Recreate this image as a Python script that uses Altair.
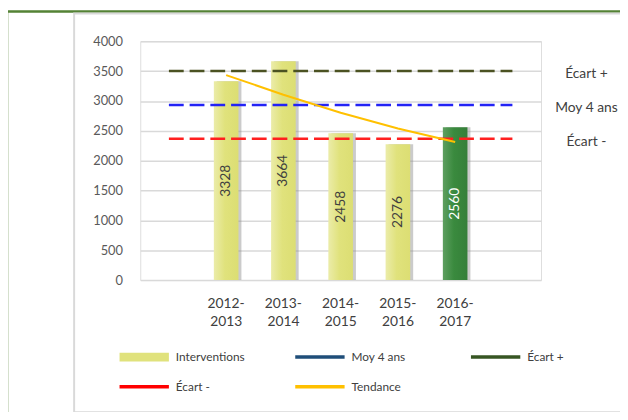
import altair as alt
import pandas as pd

# ---- data ----
categories = ["2012-2013", "2013-2014", "2014-2015", "2015-2016", "2016-2017"]
interventions = [3328, 3664, 2458, 2276, 2560]
axis_slots = ["_debut"] + categories + ["_fin"]
moy_4_ans = [2933, 2933, 2933, 2933, 2933, 2933, 2933]
ecart_plus = [3500, 3500, 3500, 3500, 3500, 3500, 3500]
ecart_moins = [2367, 2367, 2367, 2367, 2367, 2367, 2367]
tendance = [3433, 3104, 2802, 2539, 2312]
y_ticks = [0, 500, 1000, 1500, 2000, 2500, 3000, 3500, 4000]
legend_order = ["Interventions", "Moy 4 ans", "Écart +", "Écart -", "Tendance"]
legend_colors = ["#e0e27c", "#1f4e79", "#375623", "#ff0000", "#ffc000"]
ref_order = ["Écart +", "Moy 4 ans", "Écart -"]
ref_colors = ["#4b5222", "#2323f5", "#ff1f1f"]
trend_color = "#ffc000"
highlight = "2016-2017"

FONT = "Lato"

bars_df = pd.DataFrame({"slot": categories, "valeur": interventions})
ref_df = pd.DataFrame(
    [{"slot": s, "valeur": v, "serie": "Écart +"} for s, v in zip(axis_slots, ecart_plus)]
    + [{"slot": s, "valeur": v, "serie": "Moy 4 ans"} for s, v in zip(axis_slots, moy_4_ans)]
    + [{"slot": s, "valeur": v, "serie": "Écart -"} for s, v in zip(axis_slots, ecart_moins)]
)
trend_df = pd.DataFrame({"slot": categories, "valeur": tendance})
ann_df = pd.DataFrame({
    "slot": ["_fin", "_fin", "_fin"],
    "valeur": [ecart_plus[-1], moy_4_ans[-1], ecart_moins[-1]],
    "label": ["Écart +", "Moy 4 ans", "Écart -"],
})
legend_df = pd.DataFrame({"serie": legend_order, "slot": axis_slots[1:6], "valeur": interventions})
one = pd.DataFrame({"a": [0]})

x_enc = alt.X(
    "slot:N",
    sort=axis_slots,
    scale=alt.Scale(domain=axis_slots, paddingInner=0.57, paddingOuter=0.285),
    axis=alt.Axis(
        title=None, labelAngle=0, ticks=False, domain=False, grid=False,
        labelExpr="indexof(datum.value, '-') > 0 ? [slice(datum.value, 0, 5), slice(datum.value, 5)] : ''",
        labelFont=FONT, labelFontSize=14, labelColor="#404040", labelPadding=17,
        labelLineHeight=18, labelBaseline="top",
    ),
)
y_scale = alt.Scale(domain=[0, 4000], nice=False)
y_axis = alt.Axis(
    title=None, values=y_ticks, format="d", labelOverlap=False, domain=False, ticks=False,
    grid=True, gridColor="#d9d9d9", gridWidth=1.5, labelFont=FONT, labelFontSize=13,
    labelColor="#595959", labelPadding=18,
)
y_enc = alt.Y("valeur:Q", scale=y_scale, axis=y_axis)

rect_path = "M-0.93,-0.11H0.93V0.11H-0.93Z M-0.93,0H0.93"
legend = alt.Legend(
    title=None, orient="none", legendX=-23, legendY=313, columns=3, direction="horizontal",
    columnPadding=49, rowPadding=16, gridAlign="all", padding=0,
    symbolType=alt.ExprRef(f"datum.value === 'Interventions' ? '{rect_path}' : 'stroke'"),
    symbolSize=2500, symbolStrokeWidth=3.5, symbolOpacity=1,
    labelFont=FONT, labelFontSize=12, labelColor="#404040", labelOffset=5,
    clipHeight=14,
)

# legend-only layer (no marks drawn, the scale domain drives the legend)
legend_layer = alt.Chart(legend_df).transform_filter("false").mark_line(strokeCap="round").encode(
    x=x_enc, y=y_enc,
    color=alt.Color("serie:N", scale=alt.Scale(domain=legend_order, range=legend_colors), legend=legend),
)

# frames
green_frame = alt.Chart(one).mark_rect(fillOpacity=0, stroke="#548235", strokeWidth=2.5).encode(
    x=alt.value(-135), x2=alt.value(900), y=alt.value(-30), y2=alt.value(900)
)
gray_panel = alt.Chart(one).mark_rect(fillOpacity=0, stroke="#d9d9d9", strokeWidth=2).encode(
    x=alt.value(-67), x2=alt.value(900), y=alt.value(-28), y2=alt.value(376)
)

yellow_grad = alt.LinearGradient(
    gradient="linear", x1=0, x2=1, y1=0, y2=0,
    stops=[alt.GradientStop(offset=0, color="#ebeca9"),
           alt.GradientStop(offset=0.45, color="#e0e27c"),
           alt.GradientStop(offset=1, color="#dcde73")],
)
green_grad = alt.LinearGradient(
    gradient="linear", x1=0, x2=1, y1=0, y2=0,
    stops=[alt.GradientStop(offset=0, color="#5e9f60"),
           alt.GradientStop(offset=0.45, color="#3a8a3e"),
           alt.GradientStop(offset=1, color="#357f39")],
)

base_bars = alt.Chart(bars_df)
shadow = base_bars.mark_bar(color="#8c8c8c", opacity=0.45, xOffset=3).encode(x=x_enc, y=y_enc)
bars_y = base_bars.transform_filter(alt.datum.slot != highlight).mark_bar(color=yellow_grad).encode(x=x_enc, y=y_enc)
bars_g = base_bars.transform_filter(alt.datum.slot == highlight).mark_bar(color=green_grad).encode(x=x_enc, y=y_enc)

ref_lines = alt.Chart(ref_df).mark_line(strokeDash=[15, 6], strokeWidth=2.5).encode(
    x=x_enc, y=y_enc,
    stroke=alt.Stroke("serie:N", scale=alt.Scale(domain=ref_order, range=ref_colors), legend=None),
)
trend_line = alt.Chart(trend_df).mark_line(strokeWidth=2, color=trend_color).encode(x=x_enc, y=y_enc)

bar_labels = base_bars.transform_calculate(mid="datum.valeur / 2").mark_text(
    angle=270, align="center", baseline="middle", font=FONT, fontSize=14
).encode(
    x=x_enc, y=alt.Y("mid:Q", scale=y_scale, axis=y_axis), text=alt.Text("valeur:Q"),
    color=alt.condition(alt.datum.slot == highlight, alt.value("#ffffff"), alt.value("#404040")),
)

annotations = alt.Chart(ann_df).mark_text(
    align="center", baseline="middle", dx=75, dy=3, font=FONT, fontSize=14, color="#404040"
).encode(x=x_enc, y=y_enc, text="label:N")

chart = alt.layer(
    green_frame, gray_panel, shadow, bars_y, bars_g, ref_lines, trend_line, bar_labels,
    annotations, legend_layer
).properties(
    width=406, height=242,
    padding={"left": 134, "top": 31, "right": 80, "bottom": 131},
    autosize=alt.AutoSizeParams(type="none"),
).configure_view(stroke=None).configure(background="white")

chart.save("out.html", embed_options={"renderer": "svg", "actions": False})
